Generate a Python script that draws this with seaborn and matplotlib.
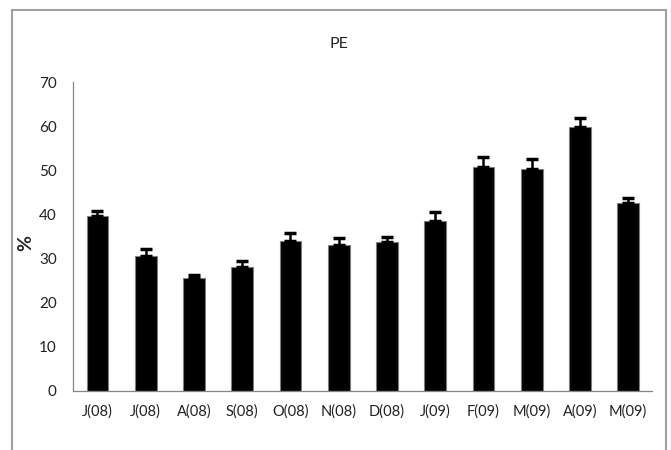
import matplotlib
matplotlib.use("Agg")
import matplotlib.pyplot as plt
import seaborn as sns
import pandas as pd
from matplotlib.patches import Rectangle

months = ["J(08)", "J(08)", "A(08)", "S(08)", "O(08)", "N(08)",
          "D(08)", "J(09)", "F(09)", "M(09)", "A(09)", "M(09)"]
values = [39.6, 30.5, 25.6, 28.0, 34.0, 33.0, 33.8, 38.5, 50.7, 50.3, 59.7, 42.5]
errors = [1.2, 1.6, 0.7, 1.4, 1.8, 1.6, 1.0, 2.0, 2.2, 2.2, 2.1, 1.1]
yticks = [0, 10, 20, 30, 40, 50, 60, 70]

sns.set_theme(style="white")
plt.rcParams['font.family'] = ['Lato', 'DejaVu Sans']

df = pd.DataFrame({"pos": [str(i) for i in range(len(months))], "value": values})

fig = plt.figure(figsize=(6.71, 4.5), dpi=100)
W, H = 671, 450
ax = fig.add_axes([73.3 / W, 1 - 390.7 / H, (652.3 - 73.3) / W, (390.7 - 82) / H])

sns.barplot(data=df, x="pos", y="value", color="black", width=0.45,
            edgecolor="#7f7f7f", linewidth=0.8, errorbar=None, saturation=1, ax=ax)
ax.errorbar(range(len(values)), values, yerr=[[0] * len(errors), errors],
            fmt="none", ecolor="black", elinewidth=1.8, capsize=4.5, capthick=2.5, zorder=3)

ax.set_xlim(-0.5, len(months) - 0.5)
ax.set_ylim(0, 70)
ax.set_yticks(yticks)
ax.set_yticklabels([str(t) for t in yticks], fontsize=11, color="#222222")
ax.set_xticks(range(len(months)))
ax.set_xticklabels(months, fontsize=10.5, color="#222222")
ax.set_xticks([i - 0.5 for i in range(len(months) + 1)], minor=True)
ax.tick_params(axis="x", which="major", length=0, pad=10)
ax.tick_params(axis="x", which="minor", length=5, color="#868686", width=0.9, direction="out")
ax.tick_params(axis="y", length=5, color="#868686", width=0.9, direction="out", pad=7)
ax.set_xlabel("")
ax.set_ylabel("%", fontsize=14, fontweight="bold")
ax.yaxis.set_label_coords(-0.068, 0.478)
for s in ["top", "right"]:
    ax.spines[s].set_visible(False)
for s in ["left", "bottom"]:
    ax.spines[s].set_color("#868686")
    ax.spines[s].set_linewidth(0.9)

fig.text(339 / W, 1 - 44 / H, "PE", ha="center", va="center", fontsize=11.5, color="#222222")

fig.patches.append(Rectangle((12 / W, 1 - 460 / H), (666 - 12) / W, (460 - 10) / H,
                             transform=fig.transFigure, fill=False,
                             edgecolor="#a0a0a0", linewidth=1.5, clip_on=False))

fig.savefig("out.png", dpi=100, facecolor="white")
